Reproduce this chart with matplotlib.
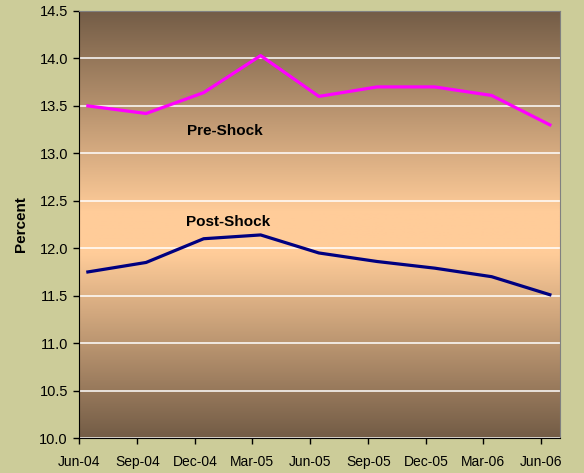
import datetime as dt
import numpy as np
import matplotlib
matplotlib.use('Agg')
import matplotlib.pyplot as plt
import matplotlib.dates as mdates
from matplotlib.colors import LinearSegmentedColormap

plt.rcParams['font.family'] = ['Liberation Sans', 'DejaVu Sans']

# quarterly observations (plotted mid-month)
months = [(2004, 6), (2004, 9), (2004, 12), (2005, 3), (2005, 6),
          (2005, 9), (2005, 12), (2006, 3), (2006, 6)]
tick_labels = ['Jun-04', 'Sep-04', 'Dec-04', 'Mar-05', 'Jun-05',
               'Sep-05', 'Dec-05', 'Mar-06', 'Jun-06']
pre_shock = [13.50, 13.42, 13.64, 14.03, 13.60, 13.70, 13.70, 13.61, 13.30]
post_shock = [11.75, 11.85, 12.10, 12.14, 11.95, 11.86, 11.79, 11.70, 11.51]

dates = [dt.date(y, m, 15) for y, m in months]
ticks = [dt.date(y, m, 1) for y, m in months]

fig = plt.figure(figsize=(5.84, 4.73), dpi=100, facecolor='#CCCC99')
ax = fig.add_axes([79 / 584, 1 - 438 / 473, (560 - 79) / 584, (438 - 11) / 473])

# brown -> peach -> brown background
cmap = LinearSegmentedColormap.from_list(
    'bg', [(0.0, '#735C46'), (0.47, '#FFCC99'), (0.57, '#FFCC99'), (1.0, '#735C46')])
grad = np.linspace(0, 1, 256).reshape(-1, 1)
ax.imshow(grad, cmap=cmap, aspect='auto', extent=[0, 1, 0, 1],
          transform=ax.transAxes, zorder=0)

ax.plot(dates, pre_shock, color='#FF00FF', linewidth=2.3, zorder=3)
ax.plot(dates, post_shock, color='#000080', linewidth=2.3, zorder=3)

ax.text(dt.date(2005, 1, 17), 13.24, 'Pre-Shock', ha='center', va='center',
        fontsize=11, fontweight='bold', zorder=4)
ax.text(dt.date(2005, 1, 22), 12.28, 'Post-Shock', ha='center', va='center',
        fontsize=11, fontweight='bold', zorder=4)

ax.set_xlim(dt.date(2004, 6, 1), dt.date(2006, 7, 1))
ax.set_ylim(10.0, 14.5)
yt = np.arange(10.0, 14.51, 0.5)
ax.set_yticks(yt)
ax.set_yticklabels(['%.1f' % v for v in yt], fontsize=10.5)
ax.set_xticks(ticks)
ax.set_xticklabels(tick_labels, fontsize=10)
ax.tick_params(direction='out', length=4, width=1, color='black')
ax.tick_params(axis='x', pad=8)
ax.tick_params(axis='y', pad=4)
ax.yaxis.grid(True, color='white', linewidth=1.1)
for l in ax.get_ygridlines():
    l.set_zorder(1)

ax.set_ylabel('Percent', fontsize=11, fontweight='bold', labelpad=8)

ax.spines['left'].set_color('black')
ax.spines['bottom'].set_color('black')
ax.spines['top'].set_color('#808080')
ax.spines['right'].set_color('#808080')

plt.savefig('out.png', dpi=100, facecolor=fig.get_facecolor())
plt.close()
